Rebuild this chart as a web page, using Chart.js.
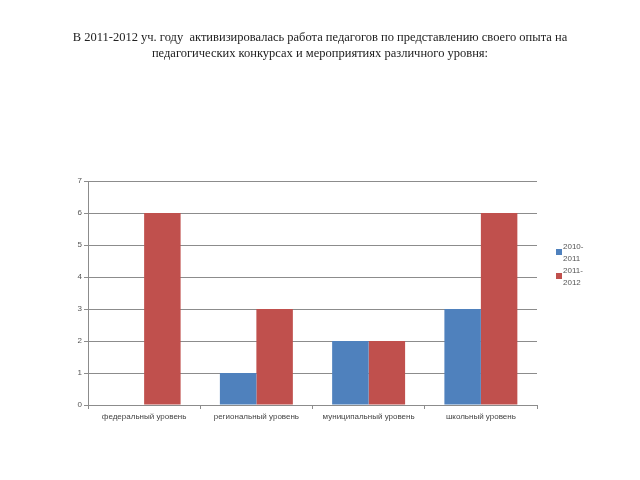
<!DOCTYPE html>
<html>
<head>
<meta charset="utf-8">
<script src="https://cdn.jsdelivr.net/npm/chart.js@4"></script>
<style>
    body { margin: 0; background: #fff; }
    #wrap { position: relative; width: 640px; height: 480px; }
    #title {
        position: absolute; left: 0; top: 29px; width: 640px;
        text-align: center; font-family: "Liberation Serif", serif;
        font-size: 12.5px; line-height: 16px; color: #222;
    }
    #legend {
        position: absolute; left: 556px; top: 241px;
        font-family: "Liberation Sans", sans-serif; font-size: 8px;
        line-height: 12px; color: #555;
    }
    .item { position: relative; padding-left: 7px; margin-bottom: 0; }
    .box { position: absolute; left: 0; top: 8px; width: 6px; height: 6px; }
</style>
</head>
<body>
<div id="wrap">
    <canvas id="chart" width="640" height="480"></canvas>
    <div id="title">В 2011-2012 уч. году &nbsp;активизировалась работа педагогов по представлению своего опыта на<br>педагогических конкурсах и мероприятиях различного уровня:</div>
    <div id="legend"></div>
</div>
<script>
// Categories and series
const categories = ['федеральный уровень', 'региональный уровень', 'муниципальный уровень', 'школьный уровень'];
const seriesNames = ['2010-2011', '2011-2012'];
const values2010 = [0, 1, 2, 3];
const values2011 = [6, 3, 2, 6];
const seriesColors = ['#4F81BD', '#C0504D'];

const ctx = document.getElementById('chart').getContext('2d');
Chart.defaults.font.family = '"Liberation Sans", sans-serif';

new Chart(ctx, {
    type: 'bar',
    data: {
        labels: categories,
        datasets: [
            { label: seriesNames[0], data: values2010, backgroundColor: seriesColors[0] },
            { label: seriesNames[1], data: values2011, backgroundColor: seriesColors[1] }
        ]
    },
    options: {
        responsive: false,
        animation: false,
        layout: { padding: { left: 0, right: 103, top: 181, bottom: 0 } },
        datasets: { bar: { categoryPercentage: 0.65, barPercentage: 1 } },
        plugins: { legend: { display: false }, tooltip: { enabled: false } },
        scales: {
            y: {
                min: 0, max: 7,
                afterFit: s => { s.width = 88; },
                border: { color: '#8c8c8c' },
                grid: { color: '#8c8c8c', tickLength: 4 },
                ticks: { stepSize: 1, font: { size: 8 }, color: '#555', padding: 2 }
            },
            x: {
                afterFit: s => { s.height = 75; },
                border: { color: '#8c8c8c' },
                grid: { drawOnChartArea: false, offset: true, color: '#8c8c8c', tickLength: 4 },
                ticks: { font: { size: 8 }, color: '#444', maxRotation: 0, autoSkip: false, padding: 3 }
            }
        }
    }
});

// Legend with wrapped labels like the original
const legend = document.getElementById('legend');
seriesNames.forEach((name, i) => {
    const parts = name.split('-');
    const item = document.createElement('div');
    item.className = 'item';
    item.innerHTML = '<span class="box" style="background:' + seriesColors[i] + '"></span>' +
        parts[0] + '-<br>' + parts[1];
    legend.appendChild(item);
});
</script>
</body>
</html>
